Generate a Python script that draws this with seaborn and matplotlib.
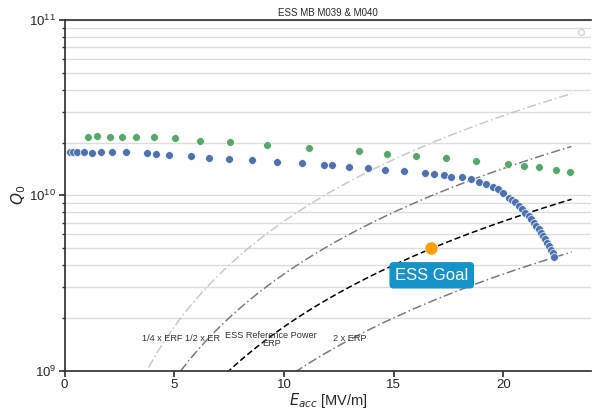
import numpy as np
import pandas as pd
import matplotlib
matplotlib.use("Agg")
import matplotlib.pyplot as plt
import seaborn as sns

# ---------------- data ----------------
blue_eacc = [0.23, 0.40, 0.58, 0.87, 1.25, 1.65, 2.16, 2.78, 3.77, 4.18, 4.75, 5.74,
             6.60, 7.51, 8.54, 9.70, 10.84, 11.80, 12.19, 12.96, 13.83, 14.61, 15.47,
             16.41, 16.83, 17.29, 17.59, 18.12, 18.50, 18.88, 19.19, 19.50, 19.79,
             19.77, 20.00, 20.23, 20.39, 20.54, 20.69, 20.84, 20.99, 21.14, 21.26,
             21.37, 21.48, 21.60, 21.71, 21.80, 21.91, 22.00, 22.09, 22.18, 22.25, 22.29]
blue_q0 = [1.764e10, 1.757e10, 1.757e10, 1.757e10, 1.741e10, 1.764e10, 1.757e10, 1.757e10,
           1.734e10, 1.718e10, 1.696e10, 1.667e10, 1.639e10, 1.618e10, 1.582e10, 1.547e10,
           1.527e10, 1.491e10, 1.481e10, 1.458e10, 1.434e10, 1.401e10, 1.373e10, 1.339e10,
           1.326e10, 1.299e10, 1.266e10, 1.274e10, 1.245e10, 1.197e10, 1.166e10, 1.114e10,
           1.068e10, 1.082e10, 1.033e10, 9.72e9, 9.38e9, 9.12e9, 8.74e9, 8.36e9, 7.98e9,
           7.63e9, 7.30e9, 6.98e9, 6.69e9, 6.41e9, 6.12e9, 5.86e9, 5.61e9, 5.37e9,
           5.14e9, 4.91e9, 4.68e9, 4.44e9]
green_eacc = [1.05, 1.48, 2.08, 2.62, 3.27, 4.08, 5.03, 6.17, 7.55, 9.21, 11.14, 13.43,
              14.68, 16.03, 17.36, 18.76, 20.21, 20.93, 21.63, 22.37, 23.04]
green_q0 = [2.147e10, 2.176e10, 2.161e10, 2.161e10, 2.147e10, 2.138e10, 2.119e10, 2.050e10,
            2.008e10, 1.946e10, 1.868e10, 1.780e10, 1.727e10, 1.678e10, 1.631e10, 1.568e10,
            1.515e10, 1.466e10, 1.449e10, 1.402e10, 1.351e10]
goal_eacc = [16.7]
goal_q0 = [5.0e9]

# constant-power curves: Q0 = k_erp / power_factor * Eacc^2
k_erp = 1.78e7
power_factors = [0.25, 0.5, 1.0, 2.0]
curve_names = ["1/4 x ERF", "1/2 x ER", "ESS Reference Power\nERP", "2 x ERP"]
curve_label_x = [4.44, 6.28, 9.42, 13.0]
curve_label_y = [1.53e9, 1.53e9, 1.505e9, 1.53e9]
e_max = 23.1

title = "ESS MB M039 & M040"

# ---------------- plot ----------------
sns.set_theme(style="ticks")
plt.rcParams["font.family"] = ["Liberation Sans", "DejaVu Sans"]

fig = plt.figure(figsize=(5.92, 4.12), dpi=100)
ax = fig.add_axes([0.109, 0.1002, 0.8898, 0.8513])

e_grid = np.linspace(0.3, e_max, 300)
curve_styles = [dict(color="#c8c8c8", ls=(0, (6, 2, 1, 2))),
                dict(color="#7a7a7a", ls=(0, (6, 2, 1, 2))),
                dict(color="black", ls=(0, (4, 2))),
                dict(color="#7a7a7a", ls=(0, (6, 2, 1, 2)))]
rows = []
for pf, name in zip(power_factors, curve_names):
    for e in e_grid:
        rows.append((e, k_erp / pf * e ** 2, name))
curves = pd.DataFrame(rows, columns=["Eacc", "Q0", "curve"])
for (name, sty) in zip(curve_names, curve_styles):
    sub = curves[curves["curve"] == name]
    sns.lineplot(data=sub, x="Eacc", y="Q0", ax=ax, color=sty["color"],
                 linestyle=sty["ls"], linewidth=1.1, zorder=2)

blue_df = pd.DataFrame({"Eacc": blue_eacc, "Q0": blue_q0})
green_df = pd.DataFrame({"Eacc": green_eacc, "Q0": green_q0})
goal_df = pd.DataFrame({"Eacc": goal_eacc, "Q0": goal_q0})
sns.scatterplot(data=green_df, x="Eacc", y="Q0", ax=ax, color="#55a868", s=32,
                edgecolor="white", linewidth=0.5, zorder=3)
sns.scatterplot(data=blue_df, x="Eacc", y="Q0", ax=ax, color="#4c72b0", s=32,
                edgecolor="white", linewidth=0.5, zorder=3)
sns.scatterplot(data=goal_df, x="Eacc", y="Q0", ax=ax, color="#ff9f00", s=90,
                edgecolor="white", linewidth=0.5, zorder=4)

for name, lx, ly in zip(curve_names, curve_label_x, curve_label_y):
    ax.text(lx, ly, name, fontsize=6.6, ha="center", va="center", color="#333333",
            linespacing=0.95, zorder=5)

ax.text(16.73, 3.5e9, "ESS Goal", fontsize=12, color="white", ha="center", va="center",
        zorder=6, bbox=dict(boxstyle="round,pad=0.3,rounding_size=0.2",
                            facecolor="#1593c9", edgecolor="#1593c9"))

ax.set_yscale("log")
ax.set_xlim(0, 24)
ax.set_ylim(1e9, 1e11)
ax.set_xticks([0, 5, 10, 15, 20])
ax.grid(True, which="both", axis="y", color="#dcdcdc", linewidth=1.0, zorder=0)
ax.set_axisbelow(True)
ax.tick_params(axis="both", which="major", labelsize=9.5, length=4, color="#333333",
               pad=2)
ax.tick_params(axis="y", which="minor", length=2.5, color="#333333")
for side in ["left", "bottom", "top"]:
    ax.spines[side].set_color("#333333")
    ax.spines[side].set_visible(True)
ax.spines["right"].set_visible(False)

ax.set_xlabel(r"$E_{acc}$ [MV/m]", fontsize=10.5, labelpad=0)
ax.set_ylabel(r"$Q_0$", fontsize=11, labelpad=1)
ax.set_title(title, fontsize=7, pad=3)

leg = ax.legend(handles=[], labels=[], loc="upper right", frameon=True,
                borderpad=0.2, bbox_to_anchor=(1.0, 0.997))
if leg is not None:
    leg.get_frame().set_edgecolor("#cccccc")

fig.savefig("out.png", dpi=100)
